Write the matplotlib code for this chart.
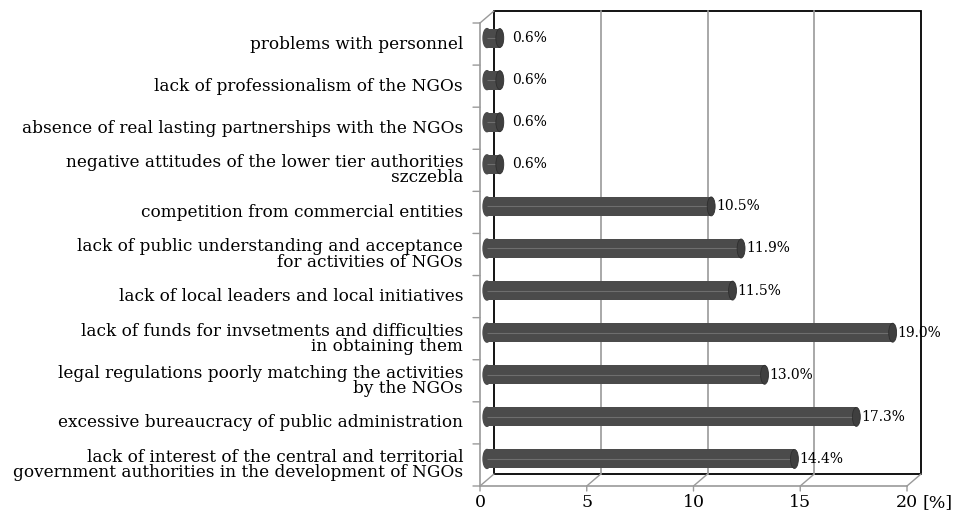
import matplotlib.pyplot as plt
from matplotlib.transforms import offset_copy
from matplotlib.patches import Rectangle, Ellipse, ConnectionPatch

categories = [
    "problems with personnel",
    "lack of professionalism of the NGOs",
    "absence of real lasting partnerships with the NGOs",
    "negative attitudes of the lower tier authorities\nszczebla",
    "competition from commercial entities",
    "lack of public understanding and acceptance\nfor activities of NGOs",
    "lack of local leaders and local initiatives",
    "lack of funds for invsetments and difficulties\nin obtaining them",
    "legal regulations poorly matching the activities\nby the NGOs",
    "excessive bureaucracy of public administration",
    "lack of interest of the central and territorial\ngovernment authorities in the development of NGOs",
]
values = [0.6, 0.6, 0.6, 0.6, 10.5, 11.9, 11.5, 19.0, 13.0, 17.3, 14.4]
x_ticks = [0, 5, 10, 15, 20]

plt.rcParams["font.family"] = ["DejaVu Serif"]

fig = plt.figure(figsize=(9.55, 5.14), dpi=100)
# middle depth plane of the pseudo-3D chart (where the bars sit)
ax = fig.add_axes([487 / 955, 34 / 514, 427 / 955, 463 / 514])
ax.set_xlim(0, 20)
ax.set_ylim(len(categories) - 0.5, -0.5)
ax.axis("off")

n = len(categories)
top, bottom = -0.5, n - 0.5
back = offset_copy(ax.transData, fig=fig, x=7, y=6, units="dots")
front = offset_copy(ax.transData, fig=fig, x=-7, y=-6, units="dots")
grey = "#9a9a9a"

# back wall
ax.add_patch(Rectangle((0, top), 20, n, transform=back, fill=False,
                       edgecolor="black", lw=1.3, clip_on=False, zorder=1))
for t in x_ticks[1:-1]:
    ax.plot([t, t], [top, bottom], transform=back, color=grey, lw=1.2,
            clip_on=False, zorder=1)

# front axis lines and depth diagonals
ax.plot([0, 20], [bottom, bottom], transform=front, color=grey, lw=1.2, clip_on=False)
ax.plot([0, 0], [top, bottom], transform=front, color=grey, lw=1.2, clip_on=False)
for t in x_ticks:
    ax.add_artist(ConnectionPatch((t, bottom), (t, bottom), coordsA=front, coordsB=back,
                                  color=grey, lw=1.0, clip_on=False))
ax.add_artist(ConnectionPatch((0, top), (0, top), coordsA=front, coordsB=back,
                              color=grey, lw=1.0, clip_on=False))

# category ticks on the left
tick_left = offset_copy(ax.transData, fig=fig, x=-14, y=-6, units="dots")
for i in range(n + 1):
    b = i - 0.5
    ax.add_artist(ConnectionPatch((0, b), (0, b), coordsA=front, coordsB=tick_left,
                                  color=grey, lw=1.0, clip_on=False))

# x ticks below the front axis
tick_down = offset_copy(ax.transData, fig=fig, x=-7, y=-11, units="dots")
for t in x_ticks:
    ax.add_artist(ConnectionPatch((t, bottom), (t, bottom), coordsA=front, coordsB=tick_down,
                                  color=grey, lw=1.0, clip_on=False))

# x tick labels
xlab = offset_copy(ax.transData, fig=fig, x=-7, y=-14, units="dots")
for t in x_ticks:
    ax.text(t, bottom, str(t), transform=xlab, ha="center", va="top", fontsize=12.5)
unit_lab = offset_copy(ax.transData, fig=fig, x=8, y=-14, units="dots")
ax.text(20, bottom, "[%]", transform=unit_lab, ha="left", va="top", fontsize=12.5)

# category labels
ylab = offset_copy(ax.transData, fig=fig, x=-24, y=-6, units="dots")
for i, c in enumerate(categories):
    ax.text(0, i, c, transform=ylab, ha="right", va="center", fontsize=12.2,
            linespacing=0.87)

# cylinder bars
bar_h = 0.45
cap_w = 0.37
bar_col = "#4b4b4b"
for i, v in enumerate(values):
    ax.barh(i, v, height=bar_h, color=bar_col, zorder=3)
    ax.add_patch(Ellipse((0, i), cap_w, bar_h, color=bar_col, zorder=3, clip_on=False))
    ax.add_patch(Ellipse((v, i), cap_w, bar_h, facecolor="#3f3f3f",
                         edgecolor="#2e2e2e", lw=0.6, zorder=4, clip_on=False))
    ax.hlines(i, 0, v, color="#6e6e6e", lw=0.8, zorder=3)
    pad = 9 if v < 1 else 3.5
    ax.annotate(f"{v:.1f}%", (v, i), xytext=(pad, 0), textcoords="offset points",
                ha="left", va="center", fontsize=10, zorder=5)

fig.savefig("out.png", dpi=100)
